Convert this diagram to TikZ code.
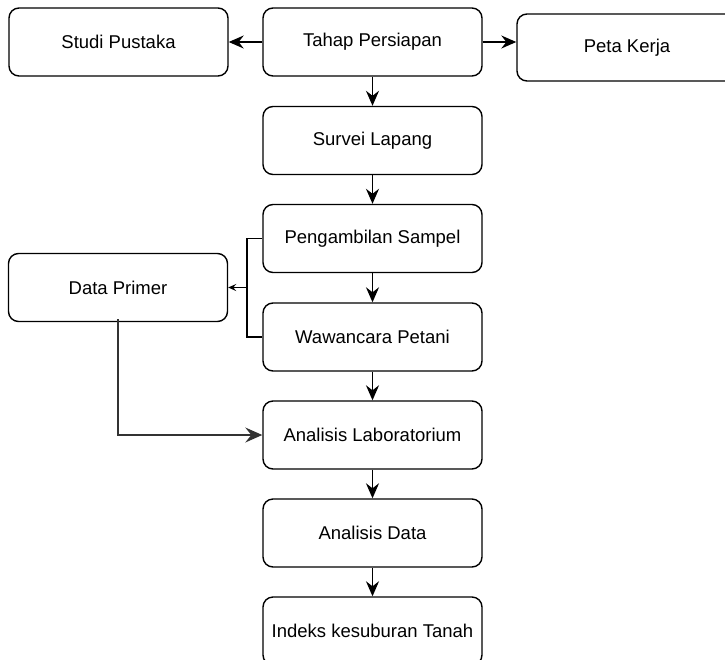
\documentclass[tikz,border=0pt]{standalone}
\usepackage{fontspec}
\setmainfont{Liberation Sans}
\usetikzlibrary{arrows.meta}

\begin{document}
\begin{tikzpicture}[x=1pt, y=-1pt]
    \tikzset{box/.style = {shape=rectangle, draw, rounded corners=10pt, line width=1.4pt,
        minimum width=219pt, minimum height=68pt, font=\fontsize{18.5}{22}\selectfont}}
    \tikzset{flow/.style = {draw, line width=1.4pt, -{Stealth[length=15pt, width=13pt, inset=5pt]}}}
    \tikzset{link/.style = {draw, line width=1.4pt}}

    \clip (0,0) rectangle (725,659);

    % nodes
    \node[box] (tahap) at (372.5,42) {Tahap Persiapan};
    \node[box] (studi) at (118.5,42) {Studi Pustaka};
    \node[box, minimum width=220pt, minimum height=67pt] (peta) at (627,47.5) {Peta Kerja};
    \node[box] (survei) at (372.5,140.5) {Survei Lapang};
    \node[box] (sampel) at (372.5,238.5) {Pengambilan Sampel};
    \node[box] (primer) at (118,287.5) {Data Primer};
    \node[box] (petani) at (372.5,337) {Wawancara Petani};
    \node[box] (lab) at (372.5,435) {Analisis Laboratorium};
    \node[box] (data) at (372.5,533) {Analisis Data};
    \node[box] (indeks) at (372.5,631) {Indeks kesuburan Tanah};
    \coordinate (bracket) at (247,287.5);

    % edges
    \draw [flow] (tahap) -- (studi);
    \draw [flow] (tahap.east) -- (tahap.east -| peta.west);
    \draw [flow] (tahap) -- (survei);
    \draw [flow] (survei) -- (sampel);
    \draw [flow] (sampel) -- (petani);
    \draw [flow] (petani) -- (lab);
    \draw [flow] (lab) -- (data);
    \draw [flow] (data) -- (indeks);
    \draw [link] (sampel.west) -| (bracket) |- (petani.west);
    \draw [link, -{Stealth[length=8pt, width=7pt, inset=3pt]}] (bracket) -- (primer.east);
    \draw [flow, draw=black!80, -{Stealth[length=17pt, width=15pt, inset=6pt]}] ([yshift=3pt]primer.south) |- (lab.west);
\end{tikzpicture}
\end{document}
